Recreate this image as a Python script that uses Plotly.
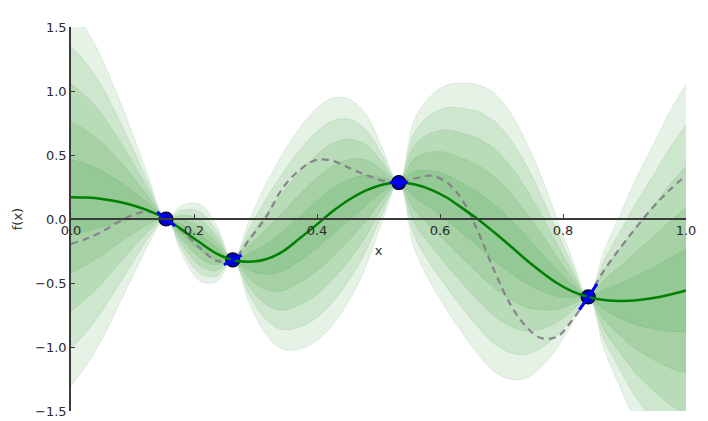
import plotly.graph_objects as go

# ---- data ----
x_grid = [0.0, 0.025, 0.05, 0.075, 0.1, 0.125, 0.1545,
          0.18, 0.2085, 0.236, 0.263,
          0.29, 0.317, 0.344, 0.371, 0.398, 0.425, 0.452, 0.479, 0.506, 0.533,
          0.558, 0.584, 0.61, 0.636, 0.661, 0.687, 0.713, 0.738, 0.764, 0.79, 0.815, 0.841,
          0.867, 0.894, 0.92, 0.947, 0.973, 1.0]

mean_vals = [0.170, 0.167, 0.157, 0.137, 0.108, 0.067, 0.0,
             -0.082, -0.18, -0.268, -0.32,
             -0.334, -0.315, -0.255, -0.155, -0.05, 0.058, 0.15, 0.222, 0.268, 0.285,
             0.272, 0.232, 0.17, 0.085, 0.0, -0.1, -0.205, -0.31, -0.41, -0.5, -0.565, -0.609,
             -0.632, -0.64, -0.635, -0.618, -0.592, -0.558]

std_vals = [0.59, 0.525, 0.44, 0.335, 0.225, 0.11, 0.0,
            0.075, 0.12, 0.09, 0.0,
            0.13, 0.235, 0.305, 0.345, 0.363, 0.355, 0.315, 0.24, 0.115, 0.0,
            0.2, 0.29, 0.35, 0.39, 0.42, 0.435, 0.418, 0.375, 0.3, 0.205, 0.1, 0.0,
            0.155, 0.275, 0.385, 0.48, 0.57, 0.645]

true_vals = [-0.195, -0.155, -0.1, -0.03, 0.03, 0.058, 0.0,
             -0.09, -0.22, -0.325, -0.32,
             -0.16, 0.015, 0.24, 0.38, 0.46, 0.455, 0.40, 0.345, 0.3, 0.286,
             0.315, 0.338, 0.29, 0.15, -0.09, -0.39, -0.655, -0.83, -0.93, -0.92, -0.79, -0.609,
             -0.4, -0.22, -0.06, 0.095, 0.225, 0.34]

obs_x = [0.1545, 0.263, 0.533, 0.841]
obs_y = [0.0, -0.32, 0.285, -0.609]
obs_slope = [-3.8, 2.6, 0.0, 7.0]

band_multiples = [2.5, 2.0, 1.5, 1.0, 0.5]

x_ticks = [0.0, 0.2, 0.4, 0.6, 0.8, 1.0]
x_tick_labels = ["0.0", "0.2", "0.4", "0.6", "0.8", "1.0"]
y_ticks = [-1.5, -1.0, -0.5, 0.0, 0.5, 1.0, 1.5]
y_tick_labels = ["\u22121.5", "\u22121.0", "\u22120.5", "0.0", "0.5", "1.0", "1.5"]

# ---- styling ----
band_fill = "rgba(0,128,0,0.1)"
band_edge = "rgba(0,128,0,0.12)"
axis_color = "#3a3a3a"
text_color = "#2b2b2b"
seg_half_dx = 0.0145

fig = go.Figure()

for k in band_multiples:
    lower = [m - k * s for m, s in zip(mean_vals, std_vals)]
    upper = [m + k * s for m, s in zip(mean_vals, std_vals)]
    fig.add_trace(go.Scatter(x=x_grid, y=lower, mode="lines",
                             line=dict(color=band_edge, width=0.8, shape="spline"),
                             showlegend=False, hoverinfo="skip"))
    fig.add_trace(go.Scatter(x=x_grid, y=upper, mode="lines", fill="tonexty",
                             fillcolor=band_fill,
                             line=dict(color=band_edge, width=0.8, shape="spline"),
                             showlegend=False, hoverinfo="skip"))

fig.add_trace(go.Scatter(x=x_grid, y=true_vals, mode="lines",
                         line=dict(color="rgb(135,130,140)", width=2.2, dash="7px,5px", shape="spline"),
                         showlegend=False))

fig.add_trace(go.Scatter(x=obs_x, y=obs_y, mode="markers",
                         marker=dict(size=14, color="rgb(0,0,205)", line=dict(color="black", width=1.2)),
                         showlegend=False))

fig.add_trace(go.Scatter(x=x_grid, y=mean_vals, mode="lines",
                         line=dict(color="rgb(0,128,0)", width=2.5, shape="spline"),
                         showlegend=False))

seg_x, seg_y = [], []
for x0, y0, s in zip(obs_x, obs_y, obs_slope):
    seg_x += [x0 - seg_half_dx, x0 + seg_half_dx, None]
    seg_y += [y0 - s * seg_half_dx, y0 + s * seg_half_dx, None]
fig.add_trace(go.Scatter(x=seg_x, y=seg_y, mode="lines",
                         line=dict(color="blue", width=3), showlegend=False))

# the page body adds an 8px offset, so the figure is 8px smaller
fig.update_layout(
    width=700, height=413,
    margin=dict(l=63, r=22, t=19, b=10),
    paper_bgcolor="white", plot_bgcolor="white",
    font=dict(family="DejaVu Sans", size=13, color=text_color),
    xaxis=dict(range=[0, 1], anchor="free", position=0.5, automargin=False,
               showline=True, linecolor=axis_color, linewidth=1.5,
               ticks="inside", ticklen=4, tickwidth=1, tickcolor=axis_color,
               tickvals=x_ticks, ticktext=x_tick_labels,
               showgrid=False, zeroline=False,
               title=dict(text="x", font=dict(size=13), standoff=8)),
    yaxis=dict(range=[-1.5, 1.5], automargin=False,
               showline=True, linecolor=axis_color, linewidth=1.5,
               ticks="inside", ticklen=4, tickwidth=1, tickcolor=axis_color,
               tickvals=y_ticks, ticktext=y_tick_labels,
               showgrid=False, zeroline=False,
               title=dict(text="f(x)", font=dict(size=13), standoff=10)),
)

fig.write_html("out.html")
